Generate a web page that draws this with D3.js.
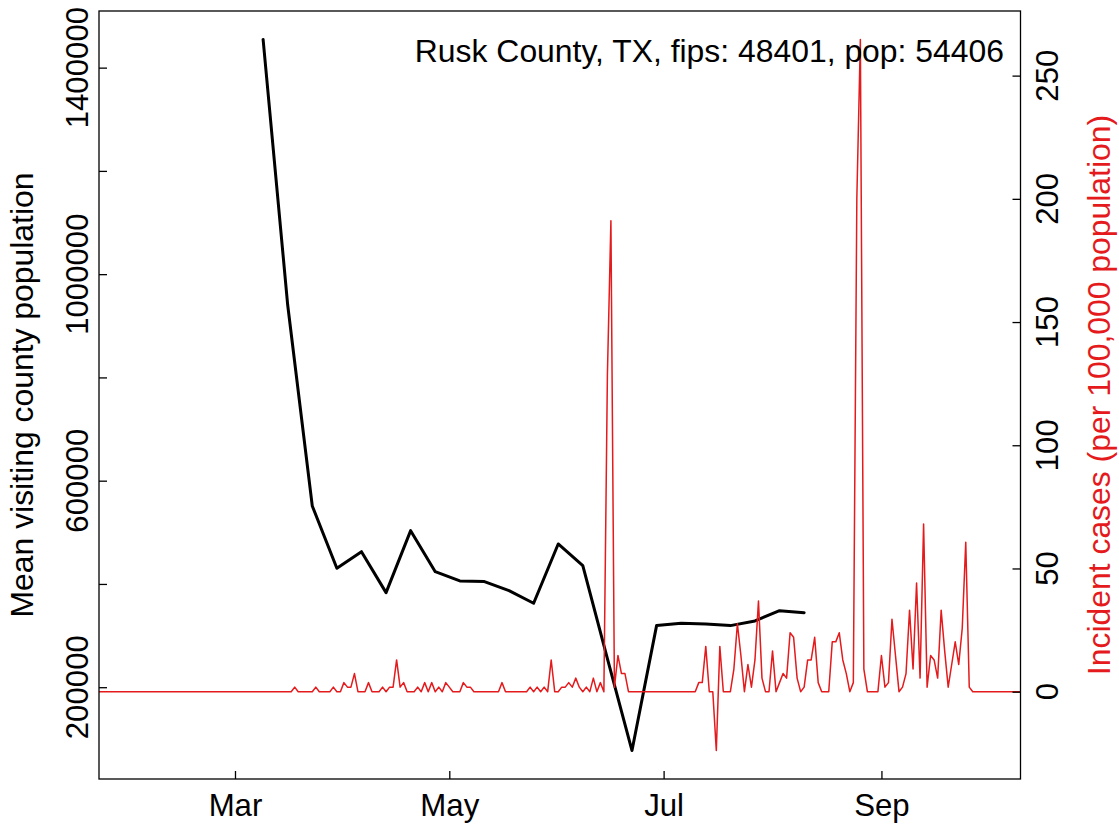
<!DOCTYPE html>
<html><head><meta charset="utf-8">
<script src="https://cdn.jsdelivr.net/npm/d3@7"></script>
<style>body{margin:0;background:#fff} svg text{font-family:"Liberation Sans",Arial,Helvetica,sans-serif}</style>
</head><body>
<svg id="chart" width="1119" height="825"></svg>
<script>
// ---- data ----
const visitDates = ["2020-03-09","2020-03-16","2020-03-23","2020-03-30","2020-04-06","2020-04-13","2020-04-20","2020-04-27","2020-05-04","2020-05-11","2020-05-18","2020-05-25","2020-06-01","2020-06-08","2020-06-15","2020-06-22","2020-06-29","2020-07-06","2020-07-13","2020-07-20","2020-07-27","2020-08-03","2020-08-10"];
const visitValues = [1454600,940200,551000,430400,462500,383200,503200,423800,405800,404500,387000,362600,477400,435400,255400,77300,319300,323900,322600,319300,328400,348300,344400];

const caseStartDate = "2020-01-21";
const caseValues = [
  0,0,0,0,0,0,0,0,0,0, 0,0,0,0,0,0,0,0,0,0, 0,0,0,0,0,0,0,0,0,0, 0,0,0,0,0,0,0,0,0,0,
  0,0,0,0,0,0,0,0,0,0,
  0,0,0,0,0,0,0,1.84,0,0,
  0,0,0,1.84,0,0,0,0,1.84,0,
  0,3.68,1.84,1.84,7.35,0,0,0,3.68,0,
  0,0,1.84,0,1.84,1.84,12.87,1.84,3.68,0,
  0,0,1.84,0,3.68,0,3.68,0,1.84,0,
  3.68,1.84,0,0,0,3.68,1.84,1.84,0,0,
  0,0,0,0,0,0,3.68,0,0,0,
  0,0,0,0,1.84,0,1.84,0,1.84,0,
  12.87,0,0,1.84,1.84,3.68,1.84,5.51,1.84,0,
  1.84,0,5.51,0,3.68,0,128.66,191.15,1.84,14.70,
  7.35,7.35,0,0,0,0,0,0,0,0,
  0,0,0,0,0,0,0,0,0,0,
  0,0,3.68,3.68,18.38,0,0,-23.89,18.38,0,
  0,0,9.19,27.57,14.70,0,11.03,1.84,12.87,36.76,
  5.51,0,0,16.54,0,3.68,7.35,5.51,23.89,22.06,
  5.51,0,1.84,12.87,12.87,22.06,3.68,0,0,0,
  20.22,20.22,23.89,12.87,7.35,0,3.68,200.35,264.68,9.19,
  0,0,0,0,14.70,1.84,3.68,29.41,14.70,0,
  1.84,7.35,33.08,9.19,44.11,5.51,68.01,1.84,14.70,12.87,
  5.51,33.08,16.54,1.84,11.03,20.22,11.03,25.73,60.65,1.84,
  0,0,0,0,0,0,0,0,0,0,
  0,0,0,0,0,0
];

const monthTickDates = ["2020-03-01","2020-05-01","2020-07-01","2020-09-01"];
const monthTickLabels = ["Mar","May","Jul","Sep"];
const leftTicks = [200000,400000,600000,800000,1000000,1200000,1400000];
const leftLabeled = [200000,600000,1000000,1400000];
const rightTicks = [0,50,100,150,200,250];
const xRange = ["2020-01-22T07:00:00Z","2020-10-10T14:00:00Z"];
const titleText = "Rusk County, TX, fips: 48401, pop: 54406";
const leftTitle = "Mean visiting county population";
const rightTitle = "Incident cases (per 100,000 population)";

// ---- layout ----
const P = {left:99, right:1020.5, top:11, bottom:779};
const FS = 31.2;     // tick labels
const FT = 31.9;     // titles / annotation
const RED = "#e41a1c";

const svg = d3.select("#chart");
const parse = s => new Date(s.length === 10 ? s + "T00:00:00Z" : s);

const x = d3.scaleUtc().domain(xRange.map(parse)).range([P.left, P.right]);
const pad = e => { const s = e[1]-e[0]; return [e[0]-0.04*s, e[1]+0.04*s]; };
const yL = d3.scaleLinear().domain(pad(d3.extent(visitValues))).range([P.bottom, P.top]);
const yR = d3.scaleLinear().domain(pad(d3.extent(caseValues))).range([P.bottom, P.top]);

const visit = visitDates.map((d,i)=>({date:parse(d), v:visitValues[i]}));
const start = parse(caseStartDate);
const cases = caseValues.map((v,i)=>({date:d3.utcDay.offset(start,i), v}));

svg.append("defs").append("clipPath").attr("id","clip")
  .append("rect").attr("x",P.left).attr("y",P.top)
  .attr("width",P.right-P.left).attr("height",P.bottom-P.top);

const plot = svg.append("g").attr("clip-path","url(#clip)");
plot.append("path").datum(visit)
  .attr("fill","none").attr("stroke","#000").attr("stroke-width",3)
  .attr("stroke-linejoin","round").attr("stroke-linecap","round")
  .attr("d", d3.line().x(d=>x(d.date)).y(d=>yL(d.v)));
plot.append("path").datum(cases)
  .attr("fill","none").attr("stroke",RED).attr("stroke-width",1.5)
  .attr("stroke-linejoin","round")
  .attr("d", d3.line().x(d=>x(d.date)).y(d=>yR(d.v)));

// frame
svg.append("rect").attr("x",P.left).attr("y",P.top)
  .attr("width",P.right-P.left).attr("height",P.bottom-P.top)
  .attr("fill","none").attr("stroke","#000").attr("stroke-width",1.3);

// axes (inward ticks)
const gB = svg.append("g").attr("transform",`translate(0,${P.bottom})`)
  .call(d3.axisBottom(x).tickValues(monthTickDates.map(parse)).tickSizeInner(-8).tickSizeOuter(0)
    .tickFormat((d,i)=>monthTickLabels[i]));
gB.select(".domain").remove();
gB.selectAll("line").attr("stroke","#000").attr("stroke-width",1.3);
gB.selectAll("text").attr("y",37).attr("dy",null).attr("fill","#000")
  .attr("font-size",FS).attr("font-family",null);

const gL = svg.append("g").attr("transform",`translate(${P.left},0)`)
  .call(d3.axisLeft(yL).tickValues(leftTicks).tickSizeInner(-8).tickSizeOuter(0).tickFormat(""));
gL.select(".domain").remove();
gL.selectAll("line").attr("stroke","#000").attr("stroke-width",1.3);

const gR = svg.append("g").attr("transform",`translate(${P.right},0)`)
  .call(d3.axisRight(yR).tickValues(rightTicks).tickSizeInner(-8).tickSizeOuter(0).tickFormat(""));
gR.select(".domain").remove();
gR.selectAll("line").attr("stroke","#000").attr("stroke-width",1.3);

// rotated tick labels
svg.append("g").selectAll("text").data(leftLabeled).join("text")
  .attr("transform", d=>`translate(88.3,${yL(d)}) rotate(-90)`)
  .attr("text-anchor","middle").attr("font-size",FS).attr("fill","#000")
  .text(d=>d3.format("d")(d));
svg.append("g").selectAll("text").data(rightTicks).join("text")
  .attr("transform", d=>`translate(1058.3,${yR(d)}) rotate(-90)`)
  .attr("text-anchor","middle").attr("font-size",FS).attr("fill","#000")
  .text(d=>d);

// axis titles
const midY = (P.top+P.bottom)/2;
svg.append("text").attr("transform",`translate(33.3,${midY}) rotate(-90)`)
  .attr("text-anchor","middle").attr("font-size",FT).attr("fill","#000").text(leftTitle);
svg.append("text").attr("transform",`translate(1109.5,${midY}) rotate(-90)`)
  .attr("text-anchor","middle").attr("font-size",FT).attr("fill",RED).text(rightTitle);

// annotation
svg.append("text").attr("x",1004).attr("y",62).attr("text-anchor","end")
  .attr("font-size",FT).attr("fill","#000").text(titleText);
</script>
</body></html>
